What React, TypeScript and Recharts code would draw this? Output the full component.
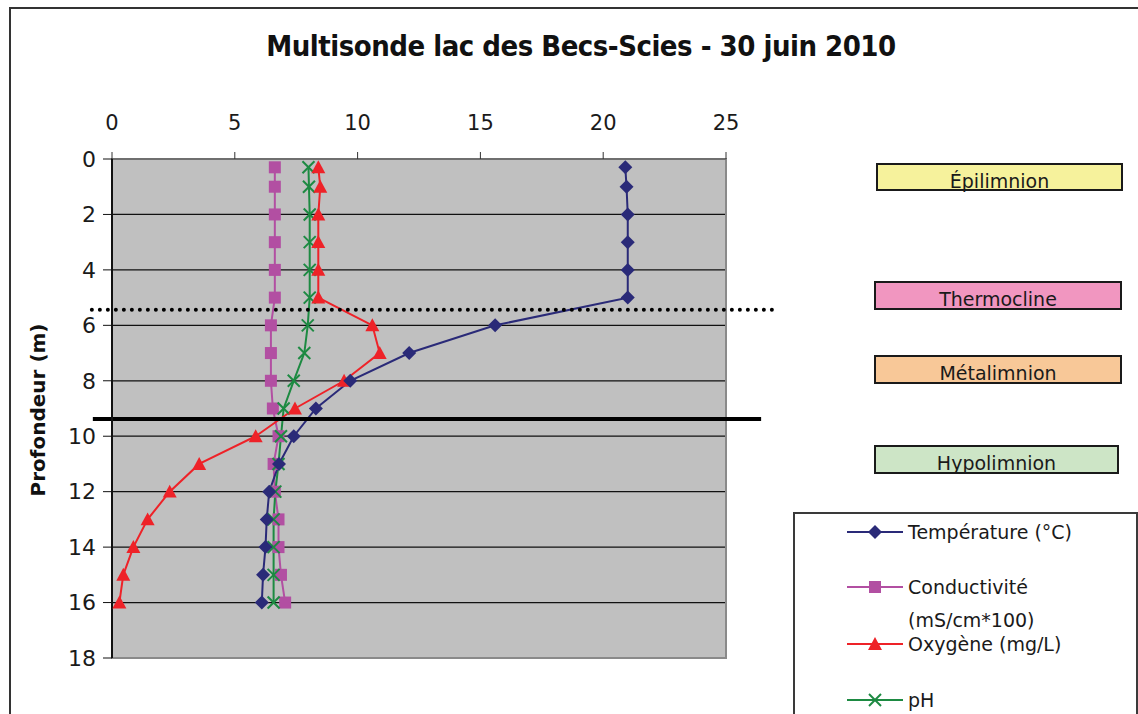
import React from "react";
import {
  ComposedChart,
  Line,
  XAxis,
  YAxis,
  CartesianGrid,
  ReferenceLine,
  ReferenceArea,
} from "recharts";

// Profondeur (m) des mesures
const depths = [0.3, 1, 2, 3, 4, 5, 6, 7, 8, 9, 10, 11, 12, 13, 14, 15, 16];
const temperature = [20.9, 20.95, 21.0, 21.0, 21.0, 21.0, 15.6, 12.1, 9.7, 8.3, 7.4, 6.8, 6.4, 6.3, 6.25, 6.15, 6.1];
const conductivity = [6.63, 6.63, 6.63, 6.63, 6.63, 6.63, 6.47, 6.47, 6.47, 6.55, 6.78, 6.58, 6.63, 6.78, 6.78, 6.88, 7.05];
const oxygen = [8.4, 8.48, 8.4, 8.4, 8.4, 8.4, 10.6, 10.9, 9.45, 7.45, 5.85, 3.55, 2.35, 1.45, 0.87, 0.46, 0.3];
const ph = [8.0, 8.02, 8.05, 8.05, 8.05, 8.05, 7.97, 7.83, 7.4, 6.99, 6.88, 6.78, 6.65, 6.58, 6.58, 6.58, 6.58];

const xTicks = [0, 5, 10, 15, 20, 25];
const yTicks = [0, 2, 4, 6, 8, 10, 12, 14, 16, 18];

// limites des couches (profondeur)
const thermoclineDepth = 5.44;
const hypolimnionDepth = 9.38;

const zones = [
  { name: "Épilimnion", color: "#f6f29c" },
  { name: "Thermocline", color: "#f196c0" },
  { name: "Métalimnion", color: "#f8c898" },
  { name: "Hypolimnion", color: "#cde5c6" },
];

const COLORS = {
  temperature: "#2a2a78",
  conductivity: "#b24fa2",
  oxygen: "#ee2228",
  ph: "#1d8a42",
};

const FONT = "'DejaVu Sans', sans-serif";

const chartData = depths.map((depth, i) => ({
  depth,
  temperature: temperature[i],
  conductivity: conductivity[i],
  oxygen: oxygen[i],
  ph: ph[i],
}));

// marker shapes
const Diamond = ({ cx, cy, color, s = 7 }: any) => (
  <polygon points={`${cx},${cy - s} ${cx + s},${cy} ${cx},${cy + s} ${cx - s},${cy}`} fill={color} />
);
const Square = ({ cx, cy, color, s = 6 }: any) => (
  <rect x={cx - s} y={cy - s} width={s * 2} height={s * 2} fill={color} />
);
const Triangle = ({ cx, cy, color, s = 7 }: any) => (
  <polygon points={`${cx},${cy - s} ${cx + s},${cy + s * 0.85} ${cx - s},${cy + s * 0.85}`} fill={color} />
);
const Cross = ({ cx, cy, color, s = 6 }: any) => (
  <g stroke={color} strokeWidth={2}>
    <line x1={cx - s} y1={cy - s} x2={cx + s} y2={cy + s} />
    <line x1={cx - s} y1={cy + s} x2={cx + s} y2={cy - s} />
  </g>
);

const dotFor = (Shape: any, color: string) => (props: any) => {
  const { cx, cy, index } = props;
  if (cx == null || cy == null) return <g key={index} />;
  return <Shape key={index} cx={cx} cy={cy} color={color} />;
};

const LEGEND_ROWS = [
  { label: ["Température (°C)"], color: COLORS.temperature, Shape: Diamond, top: 18 },
  { label: ["Conductivité", "(mS/cm*100)"], color: COLORS.conductivity, Shape: Square, top: 73 },
  { label: ["Oxygène (mg/L)"], color: COLORS.oxygen, Shape: Triangle, top: 130 },
  { label: ["pH"], color: COLORS.ph, Shape: Cross, top: 186 },
];

const LegendBox = () => (
  <div
    style={{
      position: "absolute",
      left: 793,
      top: 512,
      width: 341,
      height: 210,
      borderLeft: "2px solid #3a3a3a",
      borderTop: "2px solid #3a3a3a",
      borderRight: "2px solid #3a3a3a",
      background: "#fff",
      fontFamily: FONT,
      fontSize: 19,
      color: "#1a1a1a",
    }}
  >
    {LEGEND_ROWS.map((row) => (
      <div key={row.label[0]} style={{ position: "absolute", left: 0, top: row.top - 12 }}>
        <svg width={112} height={24} style={{ position: "absolute", left: 52, top: 0 }}>
          <line x1={0} y1={12} x2={56} y2={12} stroke={row.color} strokeWidth={2} />
          <row.Shape cx={28} cy={12} color={row.color} />
        </svg>
        <div style={{ position: "absolute", left: 113, top: 0, lineHeight: "24px", whiteSpace: "nowrap" }}>
          {row.label.map((t, i) => (
            <div key={t} style={{ marginTop: i ? 9 : 0 }}>{t}</div>
          ))}
        </div>
      </div>
    ))}
  </div>
);

const ZONE_BOXES = [
  { left: 876, top: 163, width: 247, height: 28 },
  { left: 874, top: 281, width: 248, height: 29 },
  { left: 874, top: 355, width: 248, height: 29 },
  { left: 874, top: 445, width: 245, height: 29 },
];

export default function App() {
  return (
    <div style={{ position: "absolute", left: 0, top: 0, width: 1138, height: 714, background: "#fff", overflow: "hidden" }}>
      {/* cadre */}
      <div style={{ position: "absolute", left: 9, top: 7, width: 1140, height: 720, borderTop: "2px solid #333", borderLeft: "2px solid #333" }} />

      <div
        style={{
          position: "absolute",
          left: 0,
          width: 1162,
          top: 29,
          textAlign: "center",
          fontFamily: "'DejaVu Sans Condensed', 'DejaVu Sans', sans-serif",
          fontWeight: "bold",
          fontSize: 29,
          letterSpacing: -0.5,
          color: "#111",
        }}
      >
        Multisonde lac des Becs-Scies - 30 juin 2010
      </div>

      <div
        style={{
          position: "absolute",
          left: 38,
          top: 410,
          transform: "translate(-50%, -50%) rotate(-90deg)",
          whiteSpace: "nowrap",
          fontFamily: FONT,
          fontWeight: "bold",
          fontSize: 20,
          color: "#111",
        }}
      >
        Profondeur (m)
      </div>

      <ComposedChart
        width={1138}
        height={714}
        data={chartData}
        layout="vertical"
        margin={{ top: 119, right: 412, bottom: 56, left: 52 }}
        style={{ position: "absolute", left: 0, top: 0 }}
      >
        <CartesianGrid
          xAxisId="x"
          yAxisId="y"
          vertical={false}
          horizontal
          fill="#c0c0c0"
          stroke="#111"
          strokeWidth={1.2}
        />
        <XAxis
          xAxisId="x"
          type="number"
          orientation="top"
          domain={[0, 25]}
          ticks={xTicks}
          height={40}
          allowDataOverflow
          axisLine={{ stroke: "#555", strokeWidth: 1 }}
          tickLine={{ stroke: "#333" }}
          tickSize={7}
          tickMargin={22}
          tick={{ fontSize: 21, fill: "#1a1a1a", fontFamily: FONT }}
        />
        <YAxis
          yAxisId="y"
          type="number"
          dataKey="depth"
          domain={[0, 18]}
          ticks={yTicks}
          width={60}
          allowDataOverflow
          axisLine={{ stroke: "#111", strokeWidth: 2 }}
          tickLine={{ stroke: "#111" }}
          tickSize={9}
          tickMargin={7}
          tick={{ fontSize: 22, fill: "#1a1a1a", fontFamily: FONT }}
        />
        <ReferenceArea
          xAxisId="x"
          yAxisId="y"
          x1={0}
          x2={25}
          y1={0}
          y2={18}
          fill="none"
          stroke="#8a8a8a"
          strokeWidth={2}
        />

        <Line xAxisId="x" yAxisId="y" dataKey="conductivity" stroke={COLORS.conductivity} strokeWidth={2}
          dot={dotFor(Square, COLORS.conductivity)} activeDot={false} isAnimationActive={false} />
        <Line xAxisId="x" yAxisId="y" dataKey="ph" stroke={COLORS.ph} strokeWidth={2}
          dot={dotFor(Cross, COLORS.ph)} activeDot={false} isAnimationActive={false} />
        <Line xAxisId="x" yAxisId="y" dataKey="oxygen" stroke={COLORS.oxygen} strokeWidth={2}
          dot={dotFor(Triangle, COLORS.oxygen)} activeDot={false} isAnimationActive={false} />
        <Line xAxisId="x" yAxisId="y" dataKey="temperature" stroke={COLORS.temperature} strokeWidth={2}
          dot={dotFor(Diamond, COLORS.temperature)} activeDot={false} isAnimationActive={false} />

        <ReferenceLine
          xAxisId="x"
          yAxisId="y"
          segment={[{ x: -0.82, y: thermoclineDepth }, { x: 27.05, y: thermoclineDepth }]}
          ifOverflow="visible"
          stroke="#000"
          strokeWidth={4}
          strokeDasharray="0 8"
          strokeLinecap="round"
        />
        <ReferenceLine
          xAxisId="x"
          yAxisId="y"
          segment={[{ x: -0.78, y: hypolimnionDepth }, { x: 26.43, y: hypolimnionDepth }]}
          ifOverflow="visible"
          stroke="#000"
          strokeWidth={4}
        />
      </ComposedChart>

      <LegendBox />

      {zones.map((z, i) => (
        <div
          key={z.name}
          style={{
            position: "absolute",
            ...ZONE_BOXES[i],
            boxSizing: "border-box",
            border: "2px solid #1a1a1a",
            background: z.color,
            fontFamily: FONT,
            fontSize: 19,
            color: "#1a1a1a",
            textAlign: "center",
            lineHeight: "32px",
          }}
        >
          {z.name}
        </div>
      ))}
    </div>
  );
}
